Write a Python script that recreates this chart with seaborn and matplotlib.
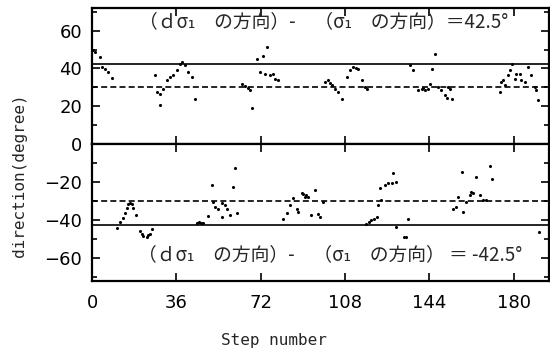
import numpy as np
import pandas as pd
import matplotlib
matplotlib.use("Agg")
import matplotlib.pyplot as plt
import seaborn as sns
from matplotlib.ticker import MultipleLocator

# ---- data ----
top_step = [0.5, 1.2, 3.4, 4.1, 5.5, 7.0, 8.4,
            27.0, 27.6, 29.0, 29.0, 30.4, 31.8, 33.3, 34.7, 36.1, 37.5, 38.2, 39.7, 41.1, 42.5, 43.9,
            63.8, 65.2, 66.6, 67.5, 68.1, 70.2, 71.6, 73.0, 73.8, 74.5, 75.9, 77.3, 78.0, 79.4,
            99.4, 100.5, 101.5, 102.2, 103.6, 105.0, 106.5, 108.6, 110.2, 111.5, 112.5, 113.6, 115.0, 116.4, 117.5,
            135.6, 137.0, 139.2, 140.6, 141.3, 142.0, 143.4, 144.1, 144.9, 146.3, 147.7, 149.1, 150.5, 151.3, 152.0, 152.7, 153.4,
            174.0, 174.7, 175.4, 176.1, 177.5, 178.3, 179.2, 180.4, 181.1, 182.5, 183.2, 184.6, 186.0, 187.5, 188.9, 189.6, 190.3]
top_dir = [50.0, 48.5, 46.0, 40.7, 39.8, 38.0, 35.1,
           36.3, 27.5, 26.3, 20.5, 29.3, 33.7, 35.4, 36.3, 39.0, 42.5, 43.4, 41.6, 38.0, 35.4, 24.0,
           32.0, 30.5, 29.5, 28.5, 19.3, 45.0, 38.0, 46.8, 37.2, 51.2, 36.3, 37.2, 34.6, 33.7,
           32.8, 33.7, 32.5, 31.0, 29.3, 27.5, 23.7, 35.4, 39.0, 41.0, 40.5, 39.5, 33.7, 30.2, 29.3,
           41.6, 39.0, 28.4, 29.3, 29.8, 28.4, 29.3, 32.0, 39.8, 47.7, 30.2, 28.4, 25.8, 24.6, 30.2, 29.3, 23.7,
           27.5, 32.8, 33.7, 31.0, 36.3, 39.0, 42.5, 34.6, 37.2, 36.8, 33.7, 32.8, 40.7, 36.3, 30.2, 28.4, 23.2]

bot_step = [10.5, 11.9, 13.3, 14.1, 14.8, 15.5, 16.2, 16.9, 17.6, 18.8, 20.5, 21.2, 21.9, 23.3, 24.0, 24.7, 25.5,
            44.6, 45.5, 46.5, 47.5, 49.6, 51.0, 51.7, 52.5, 53.9, 55.3, 55.3, 56.7, 57.4, 58.8, 60.0, 61.0, 61.7,
            81.6, 83.0, 84.4, 85.8, 87.3, 88.0, 89.4, 90.1, 90.8, 91.5, 92.2, 93.3, 95.1, 96.5, 97.2, 98.6,
            117.0, 118.0, 119.2, 120.3, 121.4, 122.1, 122.8, 123.5, 125.0, 126.4, 127.8, 128.5, 129.9, 129.9, 133.0, 133.9, 134.9,
            154.1, 155.5, 156.2, 157.7, 158.3, 159.7, 161.2, 161.9, 162.6, 163.8, 165.5, 166.9, 168.3, 169.7, 170.8,
            190.8]
bot_dir = [-43.9, -40.9, -39.1, -36.5, -33.5, -31.7, -31.0, -31.7, -33.8, -37.2, -45.8, -47.5, -48.2, -48.8, -48.0, -47.5, -44.8,
           -41.4, -41.2, -41.4, -41.6, -38.0, -21.6, -30.4, -33.0, -33.9, -31.2, -38.2, -32.1, -33.9, -37.4, -22.8, -12.5, -36.5,
           -39.3, -36.5, -32.1, -28.6, -33.9, -35.6, -26.0, -26.5, -27.7, -26.8, -27.7, -37.4, -24.2, -37.0, -38.2, -30.4,
           -41.8, -41.0, -40.2, -39.4, -38.6, -32.1, -23.3, -29.5, -21.6, -20.7, -20.4, -15.1, -19.8, -43.8, -48.8, -48.8, -39.5,
           -33.9, -33.0, -27.7, -14.6, -35.6, -30.4, -26.8, -25.1, -26.0, -17.5, -26.8, -29.5, -29.5, -11.6, -18.6,
           -46.1]

ref_solid = [42.5, -42.5]
ref_dash = [30.0, -30.0]
x_ticks = [0, 36, 72, 108, 144, 180]
top_yticks = [0, 20, 40, 60]
bot_yticks = [-60, -40, -20, 0]
bot_yticklabels = ["\u221260", "\u221240", "\u221220", ""]
top_note = "（ｄσ₁　の方向）-　（σ₁　の方向）＝42.5°"
bot_note = "（ｄσ₁　の方向）-　（σ₁　の方向） ＝ -42.5°"
xlabel = "Step number"
ylabel = "direction(degree)"

top_df = pd.DataFrame({"step": top_step, "dir": top_dir})
bot_df = pd.DataFrame({"step": bot_step, "dir": bot_dir})

sns.set_style("ticks")
plt.rcParams["font.family"] = ["DejaVu Sans"]

fig = plt.figure(figsize=(5.5, 3.56), dpi=100)
W, H = 550, 356
ax_top = fig.add_axes([92 / W, 1 - 144 / H, (549 - 92) / W, (144 - 8) / H])
ax_bot = fig.add_axes([92 / W, 1 - 281 / H, (549 - 92) / W, (281 - 144) / H])

cjk = ["Noto Sans CJK JP", "DejaVu Sans"]

for ax, df, solid, dash in [(ax_top, top_df, ref_solid[0], ref_dash[0]),
                            (ax_bot, bot_df, ref_solid[1], ref_dash[1])]:
    ax.axhline(solid, color="black", lw=1.2, zorder=1)
    ax.axhline(dash, color="black", lw=1.2, dashes=(3.6, 1.9), zorder=1)
    sns.scatterplot(data=df, x="step", y="dir", ax=ax, s=5, color="black",
                    linewidth=0, marker="o", zorder=3)
    ax.set_xlim(0, 195)
    ax.set_xticks(x_ticks)
    ax.yaxis.set_minor_locator(MultipleLocator(10))
    ax.tick_params(which="both", direction="in", top=True, right=True,
                   width=1.2, colors="black", labelsize=13)
    ax.tick_params(which="major", length=6)
    ax.tick_params(which="minor", length=3.5)
    ax.tick_params(axis="y", pad=7)
    for sp in ax.spines.values():
        sp.set_linewidth(1.6)
        sp.set_color("black")
    ax.set_xlabel("")
    ax.set_ylabel("")

ax_top.set_ylim(0, 72)
ax_top.set_yticks(top_yticks)
ax_top.tick_params(axis="x", labelbottom=False)
ax_bot.set_ylim(-72, 0)
ax_bot.set_yticks(bot_yticks)
ax_bot.set_yticklabels(bot_yticklabels)
ax_bot.tick_params(axis="x", pad=9)

ax_top.text(99, 65.0, top_note, ha="center", va="center", fontsize=13.5, family=cjk)
ax_bot.text(101.5, -58, bot_note, ha="center", va="center", fontsize=13.5, family=cjk)

fig.text(274 / W, 1 - 340 / H, xlabel, ha="center", va="center",
         fontsize=11.5, family="DejaVu Sans Mono")
fig.text(20 / W, 1 - 175 / H, ylabel, ha="center", va="center", rotation=90,
         fontsize=11.5, family="DejaVu Sans Mono")

fig.savefig("out.png", dpi=100, facecolor="white")
